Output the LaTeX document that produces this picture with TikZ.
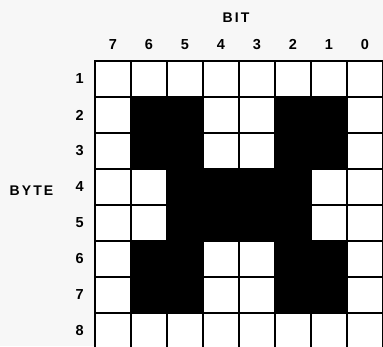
\documentclass[tikz,border=0pt]{standalone}
\usepackage{fontspec}
\setsansfont{Liberation Sans}
\usetikzlibrary{positioning}
\definecolor{Paper}{RGB}{247,247,247}
\tikzset{
    bitcell/.style={
        rectangle, draw=black, line width=2pt, fill=white,
        minimum size=36pt, inner sep=0pt
    },
    bitset/.style={bitcell, fill=black},
    idxlbl/.style={font=\sffamily\bfseries\fontsize{14.5}{14.5}\selectfont, inner sep=0pt},
    axislbl/.style={font=\sffamily\bfseries\fontsize{14}{14}\selectfont\addfontfeatures{LetterSpace=15}, inner sep=0pt},
}

\begin{document}
\begin{tikzpicture}[x=1pt, y=1pt]

    \fill [Paper] (0,0) rectangle (383,346);
    \clip (0,0) rectangle (383,346);

    % grid of cells (row = byte, column = bit)
    \foreach \r in {1,...,8}
        \foreach \b in {0,...,7}
            \node [bitcell] (c-\r-\b) at ({113+36*(7-\b)}, {303-36*\r}) {};

    % bits that are set
    \foreach \r/\b in {2/6,2/5,2/2,2/1, 3/6,3/5,3/2,3/1,
                       4/5,4/4,4/3,4/2, 5/5,5/4,5/3,5/2,
                       6/6,6/5,6/2,6/1, 7/6,7/5,7/2,7/1}
        \node [bitset] (s-\r-\b) at (c-\r-\b) {};

    % labels
    \foreach \b in {0,...,7}
        \node [idxlbl, above=10pt of c-1-\b] (bit-\b) {\b};
    \foreach \r in {1,...,8}
        \node [idxlbl, left=10pt of c-\r-7] (byte-\r) {\r};

    \node [axislbl] (bitaxis) at (236,328) {BIT};
    \node [axislbl, left=22pt of byte-4, yshift=-4pt] (byteaxis) {BYTE};

\end{tikzpicture}
\end{document}
